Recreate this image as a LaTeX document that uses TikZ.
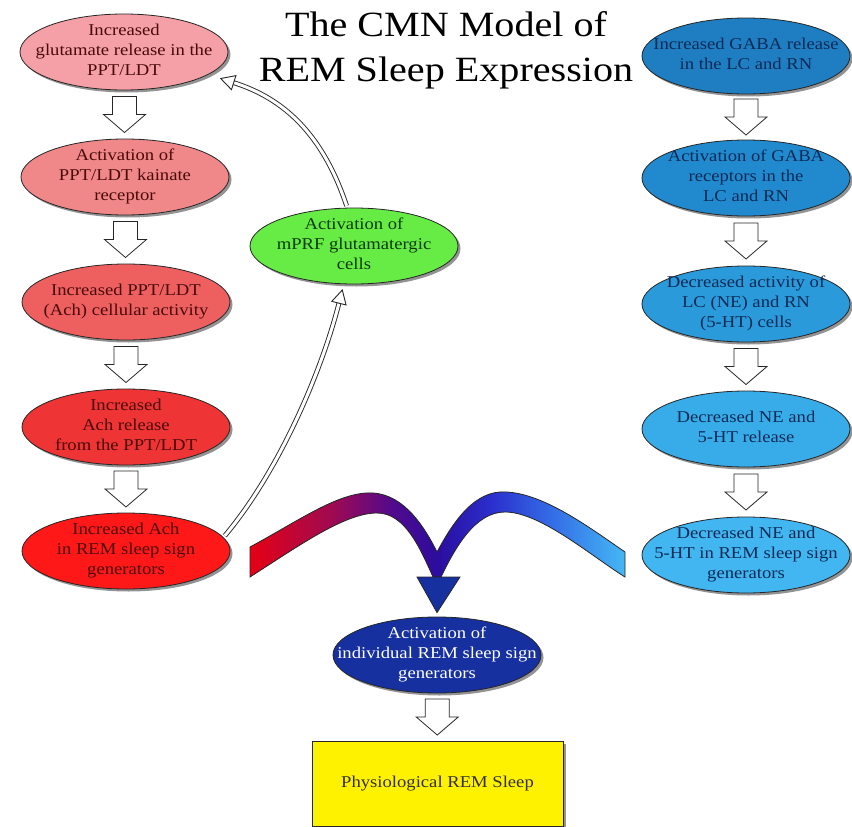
\documentclass[tikz,border=0pt]{standalone}
\usepackage{fontspec}
\setmainfont{Liberation Serif}[FakeStretch=1.13]
\usetikzlibrary{shapes.geometric,shadows,calc,arrows.meta}
\definecolor{lA}{RGB}{244,160,166}
\definecolor{lB}{RGB}{240,136,138}
\definecolor{lC}{RGB}{238,96,96}
\definecolor{lD}{RGB}{238,52,52}
\definecolor{lE}{RGB}{255,24,24}
\definecolor{rA}{RGB}{31,126,194}
\definecolor{rB}{RGB}{33,137,206}
\definecolor{rC}{RGB}{42,154,218}
\definecolor{rD}{RGB}{56,172,232}
\definecolor{rE}{RGB}{66,182,240}
\definecolor{gN}{RGB}{102,236,68}
\definecolor{bN}{RGB}{22,48,160}
\definecolor{redtext}{RGB}{74,10,10}
\definecolor{bluetext}{RGB}{11,42,85}
\definecolor{greentext}{RGB}{10,58,10}
\pgfdeclarehorizontalshading{bandshade}{100bp}{%
  rgb(0bp)=(0.90,0.00,0.08); rgb(25bp)=(0.90,0.00,0.08);
  rgb(36bp)=(0.62,0.04,0.32); rgb(44bp)=(0.32,0.04,0.55);
  rgb(50bp)=(0.17,0.05,0.62); rgb(57bp)=(0.17,0.18,0.80);
  rgb(65bp)=(0.20,0.42,0.90); rgb(75bp)=(0.27,0.72,0.96);
  rgb(100bp)=(0.27,0.72,0.96)}
\tikzset{
  cell/.style={ellipse, draw=black!85, line width=0.8pt, minimum width=208pt, minimum height=76pt,
    inner sep=0pt, font=\fontsize{16.5}{20}\selectfont,
    drop shadow={shadow xshift=2.5pt, shadow yshift=-2.5pt, fill=black!70, opacity=0.6}},
  redcell/.style={cell, text=redtext},
  bluecell/.style={cell, text=bluetext},
  blockarrow/.style={draw=black!85, fill=white, line width=0.8pt, line join=miter},
  hollowline/.style={draw=black!85, line width=0.9pt, double=white, double distance=3pt,
    -{Triangle[open, fill=white, length=15pt, width=16pt, line width=0.9pt]}},
}
% text that does not enlarge the ellipse
\newcommand\ct[1]{\smash{\makebox[0pt]{\raisebox{-3.8pt}{\begin{tabular}{@{}c@{}}#1\end{tabular}}}}}
\newcommand\downblock[2]{%
  \path (#1.south) -- (#2.north) coordinate[midway] (ba);
  \draw[blockarrow] ($(ba)+(-12,-18)$) -- ($(ba)+(12,-18)$) -- ($(ba)+(12,0)$) -- ($(ba)+(21,0)$)
    -- ($(ba)+(0,18)$) -- ($(ba)+(-21,0)$) -- ($(ba)+(-12,0)$) -- cycle;}
\begin{document}
\begin{tikzpicture}[x=1pt, y=-1pt]
\useasboundingbox[fill=white] (0,0) rectangle (852,827);

% title
\node[align=center, font=\fontsize{35.5}{45}\selectfont] (title) at (446,50)
  {The CMN Model of\\REM Sleep Expression};

% left column
\node[redcell, fill=lA] (L1) at (124,52) {\ct{Increased\\glutamate release in the\\PPT/LDT}};
\node[redcell, fill=lB] (L2) at (125,177) {\ct{Activation of\\PPT/LDT kainate\\receptor}};
\node[redcell, fill=lC] (L3) at (126,302) {\ct{Increased PPT/LDT\\(Ach) cellular activity}};
\node[redcell, fill=lD] (L4) at (126,427) {\ct{Increased\\Ach release\\from the PPT/LDT}};
\node[redcell, fill=lE] (L5) at (126,551) {\ct{Increased Ach\\in REM sleep sign\\generators}};

% right column
\node[bluecell, fill=rA] (R1) at (746,56) {\ct{Increased GABA release\\in the LC and RN}};
\node[bluecell, fill=rB] (R2) at (746,178) {\ct{Activation of GABA\\receptors in the\\LC and RN}};
\node[bluecell, fill=rC] (R3) at (746,304) {\ct{Decreased activity of\\LC (NE) and RN\\(5-HT) cells}};
\node[bluecell, fill=rD] (R4) at (746,429) {\ct{Decreased NE and\\5-HT release}};
\node[bluecell, fill=rE] (R5) at (746,555) {\ct{Decreased NE and\\5-HT in REM sleep sign\\generators}};

% middle
\node[cell, fill=gN, text=greentext] (G) at (354,246) {\ct{Activation of\\mPRF glutamatergic\\cells}};
\node[cell, fill=bN, text=white] (B) at (437,655) {\ct{Activation of\\individual REM sleep sign\\generators}};
\node[draw=black!85, line width=0.8pt, fill=yellow, minimum width=251pt, minimum height=85pt,
  font=\fontsize{16.5}{20}\selectfont, text=black!85!olive,
  drop shadow={shadow xshift=2.5pt, shadow yshift=-2.5pt, fill=black!70, opacity=0.6}]
  (Y) at (437.5,783.5) {Physiological REM Sleep};

% block arrows
\downblock{L1}{L2}
\downblock{L2}{L3}
\downblock{L3}{L4}
\downblock{L4}{L5}
\downblock{R1}{R2}
\downblock{R2}{R3}
\downblock{R3}{R4}
\downblock{R4}{R5}
\downblock{B}{Y}

% curved hollow arrows
\draw[hollowline, shorten <=2pt, shorten >=5pt] (L5.8) .. controls (280,470) and (322,370) .. (G.255);
\draw[hollowline, shorten <=2pt, shorten >=12pt] (G.100) .. controls (322,132) and (282,98) .. (L1.-15);

% converging band
\draw[draw=black!85, line width=0.8pt, shading=bandshade, shading angle=0]
  (250,547) .. controls (300,520) and (340,491) .. (373,493)
  .. controls (405,495) and (425,528) .. (437,552)
  .. controls (450,528) and (470,494) .. (500,492)
  .. controls (540,490) and (590,528) .. (625,552)
  -- (625,577)
  .. controls (590,555) and (540,512) .. (505,512)
  .. controls (475,512) and (455,548) .. (441,577)
  -- (433,577)
  .. controls (420,548) and (405,513) .. (377,513)
  .. controls (345,513) and (300,545) .. (250,577) -- cycle;
\coordinate (tipL) at (417,577);
\coordinate (tipR) at (460,577);
\draw[draw=black!85, line width=0.8pt, fill=bN, shorten >=3pt] (tipL) -- (tipR) -- ($(B.north)+(0,-4)$) -- cycle;
\end{tikzpicture}
\end{document}
